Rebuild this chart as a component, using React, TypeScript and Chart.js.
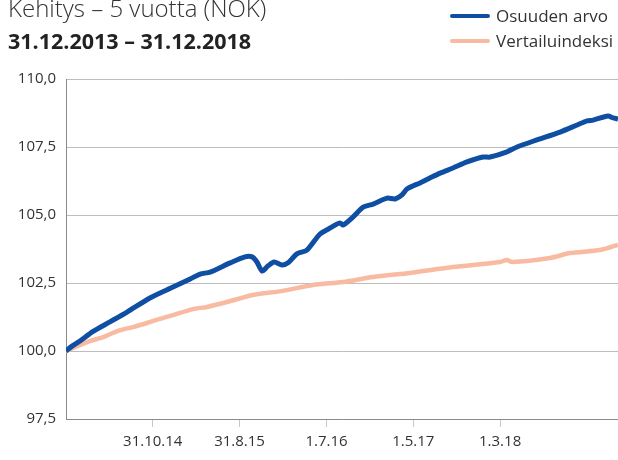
import React, { useEffect, useRef } from "react";
import { Chart, registerables } from "chart.js";

Chart.register(...registerables);

// Day offsets from 31.12.2013
const blueDays = [0, 21, 49, 95, 154, 214, 294, 375, 435, 470, 505, 575, 627, 652, 669, 687, 708, 729, 757, 778, 809, 844, 890, 925, 960, 971, 1006, 1041, 1076, 1125, 1153, 1177, 1195, 1240, 1275, 1311, 1356, 1405, 1461, 1486, 1545, 1580, 1650, 1731, 1791, 1826, 1847, 1899, 1917, 1934];
const blueValues = [100.0, 100.18, 100.37, 100.72, 101.07, 101.43, 101.95, 102.35, 102.65, 102.83, 102.9, 103.24, 103.46, 103.46, 103.27, 102.94, 103.13, 103.27, 103.16, 103.24, 103.57, 103.71, 104.3, 104.52, 104.71, 104.63, 104.93, 105.29, 105.4, 105.62, 105.59, 105.74, 105.96, 106.18, 106.36, 106.54, 106.73, 106.95, 107.13, 107.13, 107.32, 107.5, 107.76, 108.05, 108.31, 108.46, 108.49, 108.64, 108.57, 108.53];

const pinkDays = [0, 74, 130, 182, 235, 284, 329, 375, 445, 494, 564, 655, 760, 865, 971, 1076, 1205, 1251, 1356, 1521, 1545, 1563, 1696, 1766, 1871, 1934];
const pinkValues = [100.0, 100.33, 100.51, 100.74, 100.88, 101.03, 101.18, 101.32, 101.54, 101.62, 101.8, 102.06, 102.21, 102.43, 102.54, 102.72, 102.87, 102.94, 103.09, 103.27, 103.35, 103.27, 103.42, 103.6, 103.71, 103.9];

const tickDays = [304, 608, 913, 1217, 1521];
const tickLabels = ["31.10.14", "31.8.15", "1.7.16", "1.5.17", "1.3.18"];

const seriesNames = ["Osuuden arvo", "Vertailuindeksi"];
const blueColor = "#0e4ea3";
const pinkColor = "#f8bba2";
const FONT = "'Open Sans', sans-serif";

export default function App() {
  const canvasRef = useRef<HTMLCanvasElement | null>(null);

  useEffect(() => {
    if (!canvasRef.current) return;
    const chart = new Chart(canvasRef.current, {
      type: "line",
      data: {
        datasets: [
          {
            label: seriesNames[0],
            data: blueDays.map((d, i) => ({ x: d, y: blueValues[i] })),
            borderColor: blueColor,
            borderWidth: 5,
            pointRadius: 0,
            tension: 0.25,
            fill: false,
          },
          {
            label: seriesNames[1],
            data: pinkDays.map((d, i) => ({ x: d, y: pinkValues[i] })),
            borderColor: pinkColor,
            borderWidth: 4.5,
            pointRadius: 0,
            tension: 0.25,
            fill: false,
          },
        ],
      },
      options: {
        responsive: false,
        animation: false,
        layout: { padding: { top: 79, right: 0, left: 0, bottom: 0 } },
        plugins: { legend: { display: false }, tooltip: { enabled: false }, title: { display: false } },
        scales: {
          x: {
            type: "linear",
            min: 0,
            max: 1934,
            afterBuildTicks: (scale: any) => {
              scale.ticks = tickDays.map((v) => ({ value: v }));
            },
            afterFit: (scale: any) => {
              scale.height = 41;
            },
            ticks: {
              autoSkip: false,
              maxRotation: 0,
              padding: 6,
              color: "#333",
              font: { family: FONT, size: 15 },
              callback: (v: any) => {
                const i = tickDays.indexOf(Number(v));
                return i >= 0 ? tickLabels[i] : "";
              },
            },
            grid: { drawOnChartArea: false, drawTicks: true, tickLength: 8, color: "#c8c8c8" },
            border: { display: true, color: "#8a8a8a", width: 1 },
          },
          y: {
            min: 97.5,
            max: 110,
            afterFit: (scale: any) => {
              scale.width = 66;
            },
            ticks: {
              stepSize: 2.5,
              padding: 10,
              color: "#333",
              font: { family: FONT, size: 15 },
              callback: (v: any) => Number(v).toFixed(1).replace(".", ","),
            },
            grid: { drawTicks: false, color: "#bdbdbd", lineWidth: 1 },
            border: { display: true, color: "#8a8a8a", width: 1 },
          },
        },
      },
    });
    return () => chart.destroy();
  }, []);

  const legendItem = (label: string, color: string, top: number) => (
    <div style={{ position: "absolute", left: 450, top, display: "flex", alignItems: "center", height: 20 }}>
      <div style={{ width: 40, height: 4, background: color, borderRadius: 2 }} />
      <span style={{ marginLeft: 6, fontFamily: FONT, fontSize: 17, color: "#333", lineHeight: "20px", whiteSpace: "nowrap" }}>{label}</span>
    </div>
  );

  return (
    <div style={{ position: "absolute", left: 0, top: 0, width: 618, height: 460, overflow: "hidden", background: "#fff" }}>
      <canvas ref={canvasRef} width={618} height={460} style={{ position: "absolute", left: 0, top: 0 }} />
      <div style={{ position: "absolute", left: 8, top: -6, fontFamily: FONT, fontSize: 24, fontWeight: 300, color: "#333", whiteSpace: "nowrap", lineHeight: "28px" }}>
        Kehitys – 5 vuotta (NOK)
      </div>
      <div style={{ position: "absolute", left: 8, top: 27, fontFamily: FONT, fontSize: 21.5, fontWeight: 700, color: "#222", whiteSpace: "nowrap", lineHeight: "28px" }}>
        31.12.2013 – 31.12.2018
      </div>
      {legendItem(seriesNames[0], blueColor, 6)}
      {legendItem(seriesNames[1], pinkColor, 31)}
    </div>
  );
}
